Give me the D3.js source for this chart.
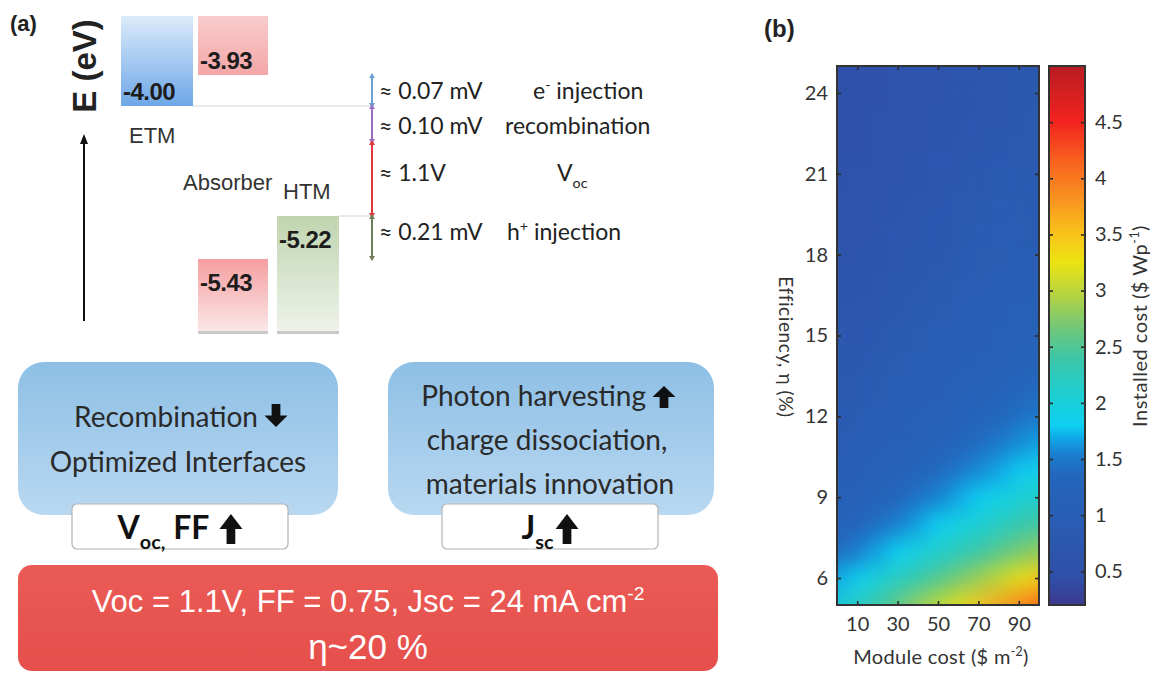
<!DOCTYPE html>
<html>
<head>
<meta charset="utf-8">
<script src="https://cdn.jsdelivr.net/npm/d3@7"></script>
<style>
  body { margin: 0; background: #fff; }
  svg { display: block; }
</style>
</head>
<body>
<svg id="fig" width="1156" height="674"></svg>
<script>
// ---------- panel (a): energy levels ----------
const layers = ['ETM', 'Absorber', 'Absorber', 'HTM']
const levels = [-4.00, -3.93, -5.43, -5.22]
const bandSide = ['lumo', 'lumo', 'homo', 'homo']
const gapFrom = [-3.93, -4.00, -4.10, -5.22]
const gapTo = [-4.00, -4.10, -5.22, -5.43]
const gapValues = ['≈ 0.07 mV', '≈ 0.10 mV', '≈ 1.1V', '≈ 0.21 mV']
const gapNames = [[['e', 'n'], ['-', 'sup'], [' injection', 'n']], [['recombination', 'n']],
                  [['V', 'n'], ['oc', 'sub']], [['h', 'n'], ['+', 'sup'], [' injection', 'n']]]
const gapColors = ['#6c9fd2', '#9a70c6', '#e0383a', '#6f7d55']

// ---------- panel (b): installed cost map ----------
const moduleCost = [0, 10, 20, 30, 40, 50, 60, 70, 80, 90, 100]
const efficiency = [25, 24, 23, 22, 21, 20, 19, 18, 17, 16, 15, 14, 13, 12, 11, 10, 9, 8, 7, 6, 5]
// installed cost ($/Wp), one row per efficiency, one column per module cost
const installedCost = [
  [0.50, 0.53, 0.55, 0.58, 0.61, 0.63, 0.66, 0.69, 0.71, 0.74, 0.77],
  [0.51, 0.54, 0.57, 0.60, 0.63, 0.66, 0.68, 0.71, 0.74, 0.77, 0.80],
  [0.53, 0.56, 0.59, 0.62, 0.65, 0.68, 0.70, 0.73, 0.76, 0.79, 0.82],
  [0.54, 0.57, 0.60, 0.63, 0.66, 0.70, 0.73, 0.76, 0.79, 0.82, 0.85],
  [0.56, 0.59, 0.62, 0.66, 0.69, 0.72, 0.75, 0.78, 0.82, 0.85, 0.88],
  [0.58, 0.61, 0.65, 0.68, 0.72, 0.75, 0.78, 0.82, 0.85, 0.89, 0.92],
  [0.60, 0.64, 0.67, 0.71, 0.74, 0.78, 0.82, 0.85, 0.89, 0.92, 0.96],
  [0.62, 0.66, 0.70, 0.73, 0.77, 0.81, 0.85, 0.89, 0.92, 0.96, 1.00],
  [0.65, 0.69, 0.73, 0.77, 0.81, 0.85, 0.89, 0.93, 0.97, 1.01, 1.05],
  [0.68, 0.72, 0.76, 0.81, 0.85, 0.89, 0.93, 0.97, 1.02, 1.06, 1.10],
  [0.71, 0.76, 0.80, 0.85, 0.89, 0.94, 0.98, 1.03, 1.07, 1.12, 1.16],
  [0.75, 0.80, 0.85, 0.89, 0.94, 0.99, 1.04, 1.09, 1.14, 1.19, 1.25],
  [0.79, 0.85, 0.89, 0.95, 1.00, 1.05, 1.11, 1.16, 1.22, 1.29, 1.37],
  [0.84, 0.90, 0.95, 1.01, 1.07, 1.13, 1.18, 1.26, 1.34, 1.43, 1.51],
  [0.90, 0.97, 1.03, 1.09, 1.15, 1.22, 1.31, 1.40, 1.50, 1.59, 1.68],
  [0.97, 1.05, 1.11, 1.18, 1.27, 1.37, 1.48, 1.58, 1.68, 1.78, 1.88],
  [1.07, 1.14, 1.22, 1.34, 1.45, 1.56, 1.68, 1.79, 1.90, 2.02, 2.13],
  [1.17, 1.29, 1.42, 1.54, 1.67, 1.80, 1.93, 2.05, 2.18, 2.31, 2.44],
  [1.37, 1.52, 1.67, 1.81, 1.96, 2.10, 2.25, 2.39, 2.54, 2.69, 2.83],
  [1.66, 1.83, 2.00, 2.17, 2.34, 2.51, 2.68, 2.85, 3.02, 3.22, 3.45],
  [1.98, 2.22, 2.44, 2.65, 2.87, 3.08, 3.28, 3.50, 3.72, 3.95, 4.20]
]
const xTicks = [10, 30, 50, 70, 90]
const yTicks = [6, 9, 12, 15, 18, 21, 24]
const cbTicks = [0.5, 1, 1.5, 2, 2.5, 3, 3.5, 4, 4.5]
const cmapValues = [0.2, 0.45, 0.9, 1.35, 1.55, 1.68, 1.8, 2.05, 2.4, 2.7, 2.95, 3.25, 3.5, 3.8, 4.15, 4.5, 5.0]
const cmapColors = ['#3d3990', '#2f4fa8', '#2a5cb2', '#2366bc', '#1a7fd0', '#10a6e6', '#0dd0f2', '#1ccfd4',
                    '#3cc6a8', '#78c872', '#b3d344', '#ebe312', '#f9c41a', '#f9951f', '#f8621f', '#f3231f', '#b81c22']

const svg = d3.select('#fig')
const defs = svg.append('defs')

// text with sub/superscripts
function rich(text, parts, size) {
  let shift = 0
  parts.forEach(([s, k]) => {
    const target = k === 'sup' ? -0.4 * size : k === 'sub' ? 0.3 * size : 0
    text.append('tspan')
      .attr('dy', target - shift)
      .attr('font-size', k === 'n' ? size : size * 0.62)
      .text(s)
    shift = target
  })
}

// fat arrow like the ones in the slide
function blockArrow(g, cx, top, w, h, dir) {
  const sw = w * 0.38, hh = h * 0.5
  let pts = [[0, 0], [w / 2, hh], [sw / 2, hh], [sw / 2, h], [-sw / 2, h], [-sw / 2, hh], [-w / 2, hh]]
  if (dir === 'down') pts = pts.map(p => [p[0], h - p[1]])
  g.append('path')
    .attr('d', 'M' + pts.map(p => `${cx + p[0]},${top + p[1]}`).join('L') + 'Z')
    .attr('fill', '#111')
}

function vGrad(id, c0, c1) {
  const gr = defs.append('linearGradient').attr('id', id)
    .attr('x1', 0).attr('y1', 0).attr('x2', 0).attr('y2', 1)
  gr.append('stop').attr('offset', 0).attr('stop-color', c0)
  gr.append('stop').attr('offset', 1).attr('stop-color', c1)
}

// ================= panel (a) =================
const pa = svg.append('g').attr('font-family', 'Liberation Sans, Arial, sans-serif')

pa.append('text').attr('x', 10).attr('y', 31)
  .attr('font-size', 22).attr('font-weight', 'bold').attr('fill', '#222').text('(a)')

pa.append('text').attr('transform', 'translate(96,66) rotate(-90)')
  .attr('text-anchor', 'middle').attr('font-size', 33).attr('font-weight', 'bold')
  .attr('fill', '#222').text('E (eV)')

pa.append('line').attr('x1', 84).attr('x2', 84).attr('y1', 321).attr('y2', 142)
  .attr('stroke', '#111').attr('stroke-width', 2)
pa.append('path').attr('d', 'M84,134 L80,144 L88,144 Z').attr('fill', '#111')

const ey = d3.scaleLinear()
  .domain([-3.93, -4.00, -4.10, -5.22, -5.43])
  .range([75, 106, 142, 216, 259])
const colX = { ETM: [121, 193], Absorber: [198, 268], HTM: [277, 339] }
const blockTop = 16, blockBottom = 331
const gradFor = {
  ETM: ['#dcebfa', '#6ea7e7'],
  'Absorber-lumo': ['#f9cccc', '#f4a6a7'],
  'Absorber-homo': ['#f59ea0', '#fbe7e7'],
  HTM: ['#c0d5af', '#eef3ea']
}

levels.forEach((lv, i) => {
  const name = layers[i]
  const side = bandSide[i]
  const key = gradFor[name] ? name : `${name}-${side}`
  const gid = `blk${i}`
  vGrad(gid, gradFor[key][0], gradFor[key][1])
  const [x0, x1] = colX[name]
  const y0 = side === 'lumo' ? blockTop : ey(lv)
  const y1 = side === 'lumo' ? ey(lv) : blockBottom
  pa.append('rect').attr('x', x0).attr('y', y0).attr('width', x1 - x0).attr('height', y1 - y0)
    .attr('fill', `url(#${gid})`)
  if (side === 'homo') {
    pa.append('rect').attr('x', x0).attr('y', blockBottom).attr('width', x1 - x0).attr('height', 3)
      .attr('fill', '#c9c9c9')
  }
  pa.append('text')
    .attr('x', x0 + 2)
    .attr('y', side === 'lumo' ? ey(lv) - 6 : ey(lv) + 32)
    .attr('font-size', 24).attr('font-weight', 'bold').attr('fill', '#1d1d1d')
    .attr('letter-spacing', -0.5)
    .text(lv.toFixed(2))
})

// level guide lines
pa.append('line').attr('x1', colX.ETM[1]).attr('x2', 372).attr('y1', ey(-4.00)).attr('y2', ey(-4.00))
  .attr('stroke', '#d4d4d4').attr('stroke-width', 1.2)
pa.append('line').attr('x1', colX.HTM[1]).attr('x2', 372).attr('y1', ey(-5.22)).attr('y2', ey(-5.22))
  .attr('stroke', '#d4d4d4').attr('stroke-width', 1.2)

// layer names
const nameStyle = t => t.attr('font-size', 22).attr('fill', '#333')
nameStyle(pa.append('text').attr('x', 129).attr('y', 143).text('ETM'))
nameStyle(pa.append('text').attr('x', 183).attr('y', 190).text('Absorber'))
nameStyle(pa.append('text').attr('x', 283).attr('y', 199).text('HTM'))

// gap arrows
const gapX = 372
const nameX = [533, 505, 557, 507]
const gapTextY = [99, 134, 181, 240]
gapFrom.forEach((e0, i) => {
  const ya = ey(e0) - 2, yb = ey(gapTo[i]) + 2
  const c = gapColors[i]
  pa.append('line').attr('x1', gapX).attr('x2', gapX).attr('y1', ya + 3).attr('y2', yb - 3)
    .attr('stroke', c).attr('stroke-width', 2)
  pa.append('path').attr('d', `M${gapX},${ya} l-3,5 l6,0 Z`).attr('fill', c)
  pa.append('path').attr('d', `M${gapX},${yb} l-3,-5 l6,0 Z`).attr('fill', c)
  pa.append('text').attr('x', gapX + 7).attr('y', gapTextY[i])
    .attr('font-family', 'Lato, sans-serif').attr('font-size', 23).attr('fill', '#222')
    .text(gapValues[i])
  const t = pa.append('text').attr('x', nameX[i]).attr('y', gapTextY[i])
    .attr('font-family', 'Lato, sans-serif').attr('fill', '#222')
  rich(t, gapNames[i], 23)
})

// ---- boxes ----
const boxFont = 'Lato, sans-serif'
vGrad('blueBox', '#8dbfe5', '#b9d8f1')
vGrad('redBox', '#ea5b56', '#e64f4b')

pa.append('rect').attr('x', 18).attr('y', 362).attr('width', 320).attr('height', 153)
  .attr('rx', 26).attr('fill', 'url(#blueBox)')
pa.append('rect').attr('x', 388).attr('y', 362).attr('width', 326).attr('height', 153)
  .attr('rx', 26).attr('fill', 'url(#blueBox)')

const boxText = (x, y, s, anchor) => pa.append('text').attr('x', x).attr('y', y)
  .attr('text-anchor', anchor || 'middle').attr('font-family', boxFont)
  .attr('font-size', 28).attr('fill', '#2a2a2a').text(s)

boxText(258, 427, 'Recombination', 'end')
blockArrow(pa, 276, 404, 23, 23, 'down')
boxText(646, 406, 'Photon harvesting', 'end')
blockArrow(pa, 664, 386, 23, 22, 'up')
boxText(178, 472, 'Optimized Interfaces')
boxText(547, 450, 'charge dissociation,')
boxText(550, 494, 'materials innovation')

// white tags: text + arrow centred in the tag
const tags = [
  { x0: 72, x1: 288, parts: [['V', 'n'], ['oc', 'sub'], [',', 'sub'], [' FF', 'n']] },
  { x0: 442, x1: 658, parts: [['J', 'n'], ['sc', 'sub']] }
]
tags.forEach(tg => {
  pa.append('rect').attr('x', tg.x0).attr('y', 504).attr('width', tg.x1 - tg.x0).attr('height', 45)
    .attr('rx', 5).attr('fill', '#fff').attr('stroke', '#b5b5b5').attr('stroke-width', 1.2)
  const t = pa.append('text').attr('x', 0).attr('y', 539)
    .attr('font-family', boxFont).attr('font-weight', 'bold').attr('fill', '#111')
  rich(t, tg.parts, 32)
  const tw = t.node().getComputedTextLength()
  const gap = tg.parts.length > 2 ? 10 : 2, aw = 23
  const start = (tg.x0 + tg.x1) / 2 - (tw + gap + aw) / 2
  t.attr('x', start)
  blockArrow(pa, start + tw + gap + aw / 2, 514, aw, 30, 'up')
})

// red summary box
pa.append('rect').attr('x', 18).attr('y', 565).attr('width', 700).attr('height', 106)
  .attr('rx', 14).attr('fill', 'url(#redBox)')
const sum1 = pa.append('text').attr('x', 368).attr('y', 612).attr('text-anchor', 'middle')
  .attr('fill', '#fff')
rich(sum1, [['Voc = 1.1V, FF = 0.75, Jsc = 24 mA cm', 'n'], ['-2', 'sup']], 31)
pa.append('text').attr('x', 368).attr('y', 659).attr('text-anchor', 'middle')
  .attr('font-size', 35).attr('fill', '#fff').text('η~20 %')

// ================= panel (b) =================
const pb = svg.append('g').attr('font-family', 'Lato, sans-serif')
const plot = { left: 837, right: 1039, top: 66, bottom: 605 }
const x = d3.scaleLinear().domain([0, 100]).range([plot.left, plot.right])
const y = d3.scaleLinear().domain([5, 25]).range([plot.bottom, plot.top])
const color = d3.scaleLinear().domain(cmapValues).range(cmapColors).clamp(true)

pb.append('text').attr('x', 764).attr('y', 37).attr('font-family', 'Liberation Sans, Arial, sans-serif')
  .attr('font-size', 24).attr('font-weight', 'bold').attr('fill', '#222').text('(b)')

// smoothing filter (shading interp look), alpha forced back to 1 at the edges
const filt = defs.append('filter').attr('id', 'smooth')
  .attr('x', 0).attr('y', 0).attr('width', 1).attr('height', 1)
  .attr('color-interpolation-filters', 'sRGB')
filt.append('feGaussianBlur').attr('stdDeviation', '9 11')
filt.append('feComponentTransfer').append('feFuncA').attr('type', 'table').attr('tableValues', '1 1')

const halfX = (moduleCost[1] - moduleCost[0]) / 2
const halfY = (efficiency[0] - efficiency[1]) / 2
const cells = []
installedCost.forEach((row, i) => row.forEach((v, j) => {
  cells.push({ m: moduleCost[j], e: efficiency[i], v })
}))
pb.append('g').attr('filter', 'url(#smooth)')
  .selectAll('rect').data(cells).enter().append('rect')
  .attr('x', d => x(Math.max(0, d.m - halfX)))
  .attr('y', d => y(Math.min(25, d.e + halfY)))
  .attr('width', d => x(Math.min(100, d.m + halfX)) - x(Math.max(0, d.m - halfX)) + 0.5)
  .attr('height', d => y(Math.max(5, d.e - halfY)) - y(Math.min(25, d.e + halfY)) + 0.5)
  .attr('fill', d => color(d.v))

const tickStyle = g => {
  g.select('.domain').remove()
  g.selectAll('line').attr('stroke', '#2a2a2a').attr('stroke-width', 1.6)
  g.selectAll('text').attr('fill', '#333').attr('font-size', 20).attr('font-family', 'Lato, sans-serif')
}
pb.append('g').attr('transform', `translate(${plot.left},0)`)
  .call(d3.axisLeft(y).tickValues(yTicks).tickSize(-4).tickPadding(9)).call(tickStyle)
pb.append('g').attr('transform', `translate(${plot.right},0)`)
  .call(d3.axisRight(y).tickValues(yTicks).tickSize(-4).tickFormat('')).call(tickStyle)
pb.append('g').attr('transform', `translate(0,${plot.bottom})`)
  .call(d3.axisBottom(x).tickValues(xTicks).tickSize(-4).tickPadding(12)).call(tickStyle)
pb.append('g').attr('transform', `translate(0,${plot.top})`)
  .call(d3.axisTop(x).tickValues(xTicks).tickSize(-4).tickFormat('')).call(tickStyle)
pb.append('rect').attr('x', plot.left).attr('y', plot.top)
  .attr('width', plot.right - plot.left).attr('height', plot.bottom - plot.top)
  .attr('fill', 'none').attr('stroke', '#333').attr('stroke-width', 2)

pb.append('text').attr('transform', `translate(779,347) rotate(90)`)
  .attr('text-anchor', 'middle').attr('font-size', 19).attr('letter-spacing', 0.6).attr('fill', '#333')
  .text('Efficiency, η (%)')
const xt = pb.append('text').attr('x', 941).attr('y', 664).attr('text-anchor', 'middle').attr('fill', '#333')
  .attr('letter-spacing', 0.3)
rich(xt, [['Module cost ($ m', 'n'], ['-2', 'sup'], [')', 'n']], 20)

// colorbar
const cb = { left: 1049, right: 1085 }
const cbScale = d3.scaleLinear().domain([0.2, 5]).range([plot.bottom, plot.top])
const cbGrad = defs.append('linearGradient').attr('id', 'cbGrad')
  .attr('x1', 0).attr('y1', 1).attr('x2', 0).attr('y2', 0)
cmapValues.forEach((v, i) => {
  cbGrad.append('stop').attr('offset', (v - 0.2) / (5 - 0.2)).attr('stop-color', cmapColors[i])
})
pb.append('rect').attr('x', cb.left).attr('y', plot.top).attr('width', cb.right - cb.left)
  .attr('height', plot.bottom - plot.top).attr('fill', 'url(#cbGrad)')
pb.append('g').attr('transform', `translate(${cb.right},0)`)
  .call(d3.axisRight(cbScale).tickValues(cbTicks).tickSize(-4).tickPadding(10).tickFormat(d => String(d)))
  .call(tickStyle)
pb.append('g').attr('transform', `translate(${cb.left},0)`)
  .call(d3.axisLeft(cbScale).tickValues(cbTicks).tickSize(-4).tickFormat('')).call(tickStyle)
pb.append('rect').attr('x', cb.left).attr('y', plot.top).attr('width', cb.right - cb.left)
  .attr('height', plot.bottom - plot.top).attr('fill', 'none').attr('stroke', '#333').attr('stroke-width', 2)

const cbt = pb.append('text').attr('transform', 'translate(1147,326) rotate(-90)')
  .attr('text-anchor', 'middle').attr('fill', '#333').attr('letter-spacing', 0.5)
rich(cbt, [['Installed cost ($ Wp', 'n'], ['-1', 'sup'], [')', 'n']], 20)
</script>
</body>
</html>
